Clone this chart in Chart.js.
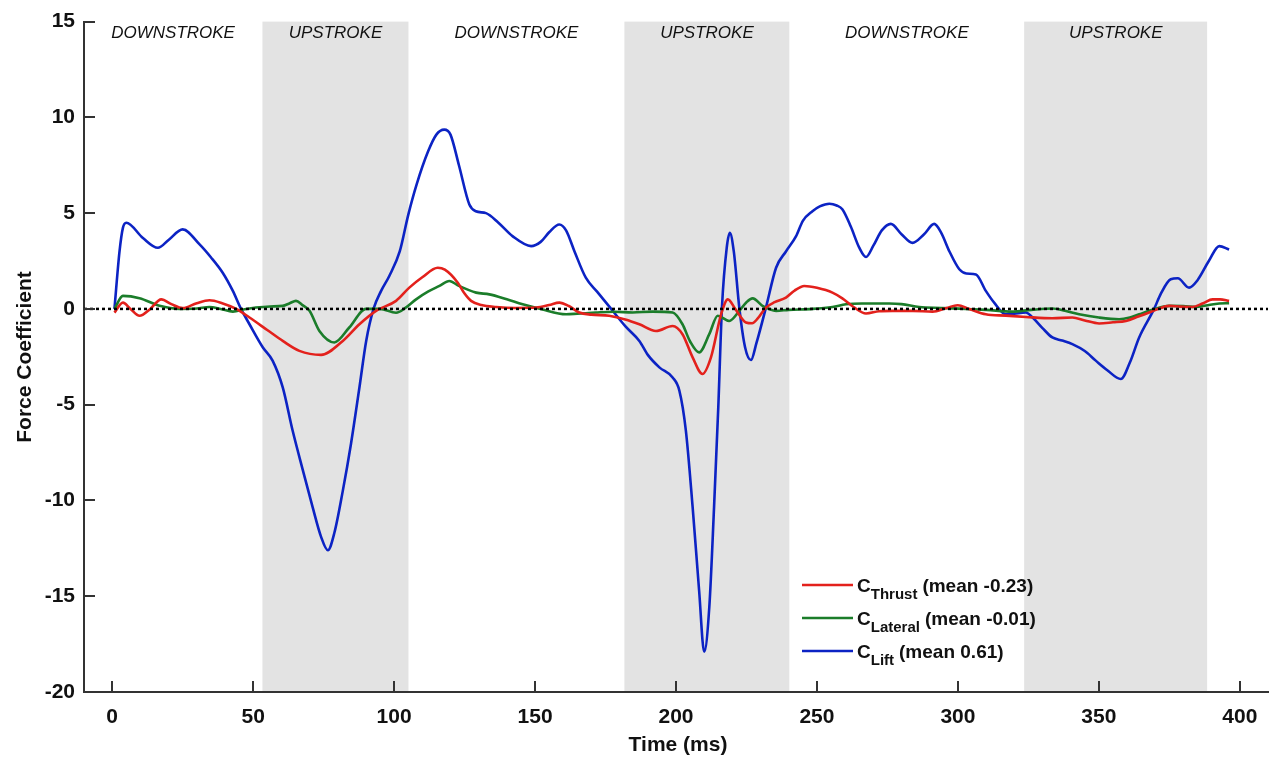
<!DOCTYPE html>
<html>
<head>
<meta charset="utf-8">
<script src="https://cdn.jsdelivr.net/npm/chart.js@4.4.0/dist/chart.umd.min.js"></script>
<style>
html,body{margin:0;padding:0;background:#fff;}
#wrap{width:1280px;height:763px;position:relative;}
</style>
</head>
<body>
<div id="wrap"><canvas id="c" width="1280" height="763"></canvas></div>
<script>
// ---------- data ----------
const xTicks = [0, 50, 100, 150, 200, 250, 300, 350, 400];
const yTicks = [-20, -15, -10, -5, 0, 5, 10, 15];

const upstrokeStart = [53.3, 181.7, 323.5];
const upstrokeEnd   = [105.1, 240.2, 388.4];
const strokeLabels  = ['DOWNSTROKE', 'UPSTROKE', 'DOWNSTROKE', 'UPSTROKE', 'DOWNSTROKE', 'UPSTROKE'];
const strokeLabelCentre = [21.6, 79.2, 143.4, 211.0, 281.9, 356.0];

const seriesNames = ['Thrust', 'Lateral', 'Lift'];
const seriesMeans = ['(mean -0.23)', '(mean -0.01)', '(mean 0.61)'];

const thrustT = [0.8,3.8,6.5,9.7,13.5,17.4,21,25,30,34.5,39,44,48.7,55,60.5,66.4,74.1,81.8,87.7,93.6,100.7,105.4,110,115.5,118,122.6,125,127.3,131,136.2,143,150.4,155,158.6,162,165.7,170,176.3,182,187,192.9,198.8,202.3,205.9,209.4,212.4,216,218.4,221,224.8,227,229,231.9,235,239,242,245.5,250,255.5,259,263,267.4,272,276.8,284,291,296,299.9,304,309.9,317,324.1,333.5,340.6,345,350.1,355,359.6,364,367.8,371,374.9,379,383.2,387,390.3,393,396.2];
const thrustY = [-0.19,0.33,0.0,-0.36,0.0,0.5,0.25,0.04,0.3,0.45,0.3,0.0,-0.45,-1.1,-1.67,-2.19,-2.4,-1.67,-0.8,-0.1,0.42,1.11,1.65,2.15,2.05,1.37,0.8,0.42,0.2,0.1,0.05,0.07,0.2,0.33,0.15,-0.19,-0.3,-0.36,-0.55,-0.8,-1.15,-0.89,-1.32,-2.53,-3.4,-2.53,-0.28,0.5,0.0,-0.71,-0.75,-0.5,0.07,0.35,0.59,0.95,1.2,1.1,0.85,0.55,0.1,-0.24,-0.12,-0.1,-0.1,-0.14,0.05,0.19,0.0,-0.28,-0.35,-0.42,-0.49,-0.45,-0.6,-0.76,-0.7,-0.63,-0.4,-0.19,0.0,0.16,0.12,0.1,0.3,0.5,0.5,0.42];

const lateralT = [0.8,3.8,9.7,16.8,23.9,30,34.5,38.5,42.8,47,51,56,60.5,63,65.2,67.5,70,73.5,78.8,84.1,90,95,100.7,104,107.8,112,116.1,119.6,123,129.1,133.8,140,145.6,152,161,165,171.6,178,184.6,191.7,198.8,202.3,205,208.2,211.8,214.8,218.9,222.5,225,227.2,230.7,235.5,240,248.4,255.5,260.3,266,275.6,280,286.3,294,302.8,310,319.3,326,333.5,338,343,350,357.2,361,364.3,369,374.9,380,384.4,388,392.7,396.2];
const lateralY = [0,0.68,0.56,0.16,0,0.02,0.1,0.0,-0.14,-0.02,0.07,0.13,0.16,0.3,0.42,0.2,-0.1,-1.15,-1.75,-0.97,0,0.0,-0.2,0.05,0.5,0.9,1.2,1.46,1.2,0.85,0.76,0.5,0.24,0.0,-0.28,-0.25,-0.19,-0.15,-0.19,-0.14,-0.19,-0.8,-1.7,-2.27,-1.32,-0.36,-0.63,-0.1,0.35,0.55,0.16,-0.1,-0.05,0.0,0.1,0.24,0.28,0.28,0.25,0.1,0.05,0.0,-0.05,-0.14,-0.05,0.02,-0.1,-0.28,-0.45,-0.54,-0.45,-0.28,-0.05,0.16,0.15,0.1,0.18,0.28,0.3];

const liftT = [0.8,2.6,3.8,5,10.9,16.2,20,25,31,35,39.2,42.8,45.7,48.7,53.4,56.9,60.5,64,67.6,71.1,74.1,76.5,78.8,81.8,84.7,87.7,90.1,92.7,95.4,98.3,102,105,108,112,115,117.8,120,123,126.7,129,132.6,137,142,148.6,152,155,158.6,161,164,168,172,177,182,187,190,194.1,198.8,201.2,203.5,205.9,208.2,210,211.8,213.5,215,216.3,218,219.1,220.5,222.5,224.5,226.6,228.5,231.9,235.5,239,242.6,245,248.4,251,254.4,257,259,262,265,267.4,270,273,276.2,280,283.9,288,291.6,294,297,300.5,303,306.4,309.9,313,317,320,324.1,326.5,330,333.5,337,340.6,345,348.9,353,357.8,361,364.3,369.6,372,375.5,378,382,385,389,392.7,396.2];
const liftY = [0,3.0,4.23,4.5,3.7,3.19,3.6,4.15,3.37,2.7,1.89,0.94,0,-0.8,-2.0,-2.7,-4.1,-6.35,-8.4,-10.35,-11.9,-12.6,-11.7,-9.5,-7.05,-4.1,-1.67,0,0.94,1.72,3.0,4.9,6.5,8.2,9.1,9.36,9.1,7.5,5.45,5.1,5.0,4.5,3.8,3.28,3.5,4.0,4.41,4.1,3.0,1.63,0.9,0,-0.9,-1.67,-2.4,-3.05,-3.58,-4.27,-6.35,-10.35,-14.7,-17.9,-15.6,-10.35,-5.14,0.07,3.2,3.97,3.0,0,-2.0,-2.67,-1.8,0.07,2.15,3.0,3.8,4.6,5.1,5.35,5.49,5.4,5.2,4.3,3.2,2.71,3.3,4.1,4.44,3.9,3.45,3.9,4.44,4.0,3.0,2.07,1.85,1.8,0.94,0.3,-0.28,-0.25,-0.19,-0.45,-1.0,-1.49,-1.65,-1.84,-2.2,-2.7,-3.2,-3.66,-2.8,-1.49,0,0.8,1.55,1.6,1.11,1.5,2.5,3.28,3.1];

const colours = ['#e3211c', '#1b7d2a', '#0c23c4'];

// ---------- build ----------
const toPts = (t, y) => t.map((v, i) => ({x: v, y: y[i]}));
const FONT = '"Liberation Sans", Arial, Helvetica, sans-serif';

const overlay = {
  id: 'overlay',
  beforeDraw(chart) {
    const {ctx, chartArea: a, scales: {x}} = chart;
    ctx.save();
    ctx.fillStyle = '#e3e3e3';
    for (let i = 0; i < upstrokeStart.length; i++) {
      const x0 = x.getPixelForValue(upstrokeStart[i]);
      const x1 = x.getPixelForValue(upstrokeEnd[i]);
      ctx.fillRect(x0, a.top, x1 - x0, a.bottom - a.top);
    }
    ctx.fillStyle = '#111';
    ctx.font = 'italic 17px ' + FONT;
    ctx.textAlign = 'center';
    ctx.textBaseline = 'middle';
    strokeLabels.forEach((s, i) => {
      ctx.fillText(s, x.getPixelForValue(strokeLabelCentre[i]), 33);
    });
    ctx.restore();
  },
  afterDatasetsDraw(chart) {
    const {ctx, chartArea: a, scales: {x, y}} = chart;
    ctx.save();
    // zero dotted line
    ctx.strokeStyle = '#000';
    ctx.lineWidth = 2.5;
    ctx.setLineDash([3, 3]);
    const y0 = y.getPixelForValue(0);
    ctx.beginPath(); ctx.moveTo(a.left, y0); ctx.lineTo(a.right, y0); ctx.stroke();
    ctx.setLineDash([]);
    // inward ticks
    ctx.strokeStyle = '#333';
    ctx.lineWidth = 2;
    ctx.beginPath();
    yTicks.forEach(v => {
      const py = Math.round(y.getPixelForValue(v));
      ctx.moveTo(a.left, py); ctx.lineTo(a.left + 11, py);
    });
    xTicks.forEach(v => {
      const px = Math.round(x.getPixelForValue(v));
      ctx.moveTo(px, a.bottom); ctx.lineTo(px, a.bottom - 11);
    });
    ctx.stroke();
    // legend
    const lx0 = 802, lx1 = 853, ly = [585, 618, 651];
    ctx.textBaseline = 'alphabetic';
    ctx.textAlign = 'left';
    seriesNames.forEach((n, i) => {
      ctx.strokeStyle = colours[i];
      ctx.lineWidth = 2.5;
      ctx.beginPath(); ctx.moveTo(lx0, ly[i]); ctx.lineTo(lx1, ly[i]); ctx.stroke();
      ctx.fillStyle = '#111';
      ctx.font = 'bold 19px ' + FONT;
      let px = 857;
      ctx.fillText('C', px, ly[i] + 7);
      px += ctx.measureText('C').width;
      ctx.font = 'bold 15px ' + FONT;
      ctx.fillText(n, px, ly[i] + 14);
      px += ctx.measureText(n).width + 5;
      ctx.font = 'bold 19px ' + FONT;
      ctx.fillText(seriesMeans[i], px, ly[i] + 7);
    });
    // axis titles
    ctx.fillStyle = '#111';
    ctx.font = 'bold 21px ' + FONT;
    ctx.textAlign = 'center';
    ctx.textBaseline = 'middle';
    ctx.fillText('Time (ms)', 678, 745);
    ctx.translate(25, 357);
    ctx.rotate(-Math.PI / 2);
    ctx.fillText('Force Coefficient', 0, 0);
    ctx.restore();
  }
};

const mk = (label, t, v, c) => ({
  label, data: toPts(t, v), borderColor: c, backgroundColor: c,
  borderWidth: 2.6, pointRadius: 0, fill: false,
  cubicInterpolationMode: 'monotone'
});

new Chart(document.getElementById('c'), {
  type: 'line',
  data: {
    datasets: [
      mk('CThrust', thrustT, thrustY, colours[0]),
      mk('CLateral', lateralT, lateralY, colours[1]),
      mk('CLift', liftT, liftY, colours[2])
    ]
  },
  options: {
    responsive: false,
    animation: false,
    events: [],
    layout: {padding: {top: 20, right: 12, left: 0, bottom: 0}},
    plugins: {legend: {display: false}, tooltip: {enabled: false}},
    scales: {
      x: {
        type: 'linear', min: -10, max: 410,
        afterBuildTicks: s => { s.ticks = xTicks.map(v => ({value: v})); },
        afterFit: s => { s.height = 71; },
        grid: {display: false, drawTicks: false},
        border: {display: true, color: '#333', width: 2},
        ticks: {color: '#111', font: {family: FONT, size: 21, weight: 'bold'}, padding: 13, maxRotation: 0}
      },
      y: {
        type: 'linear', min: -20, max: 15,
        afterBuildTicks: s => { s.ticks = yTicks.map(v => ({value: v})); },
        afterFit: s => { s.width = 84; },
        grid: {display: false, drawTicks: false},
        border: {display: true, color: '#333', width: 2},
        ticks: {color: '#111', font: {family: FONT, size: 21, weight: 'bold'}, padding: 9}
      }
    }
  },
  plugins: [overlay]
});
</script>
</body>
</html>
